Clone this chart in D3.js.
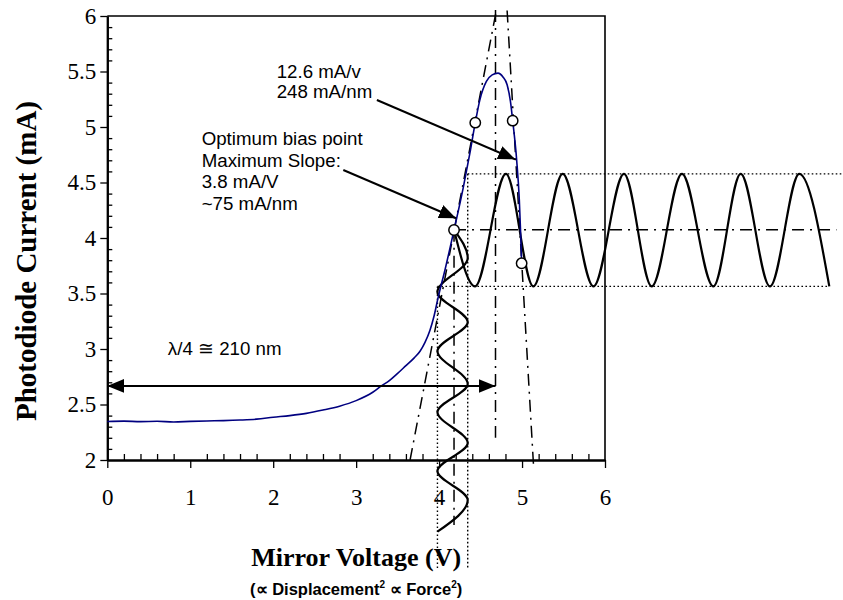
<!DOCTYPE html>
<html><head><meta charset="utf-8">
<script src="https://cdn.jsdelivr.net/npm/d3@7"></script>
<style>body{margin:0;background:#fff}svg{display:block}
.tk text{font-family:"Liberation Serif","Times New Roman",serif !important;font-size:23px !important;}
</style>
</head><body><svg id="c" width="843" height="600"></svg>
<script>
// ---------- data ----------
const xMajorTicks = [0, 1, 2, 3, 4, 5, 6];
const yMajorTicks = [2, 2.5, 3, 3.5, 4, 4.5, 5, 5.5, 6];
const xMinorTicks = [0.2,0.4,0.6,0.8,1.2,1.4,1.6,1.8,2.2,2.4,2.6,2.8,3.2,3.4,3.6,3.8,4.2,4.4,4.6,4.8,5.2,5.4,5.6,5.8];
const yMinorTicks = [2.1,2.2,2.3,2.4,2.6,2.7,2.8,2.9,3.1,3.2,3.3,3.4,3.6,3.7,3.8,3.9,4.1,4.2,4.3,4.4,4.6,4.7,4.8,4.9,5.1,5.2,5.3,5.4,5.6,5.7,5.8,5.9];

// measured photodiode current vs mirror voltage (blue)
const curveV = [0, 0.2, 0.4, 0.6, 0.8, 1.0, 1.2, 1.4, 1.6, 1.8, 2.0, 2.2, 2.4, 2.6, 2.8, 3.0, 3.2, 3.3, 3.4, 3.5, 3.6, 3.7, 3.77, 3.83, 3.89, 3.94, 3.99, 4.07, 4.18, 4.29, 4.37, 4.436, 4.49, 4.57, 4.64, 4.71, 4.77, 4.82, 4.86, 4.887, 4.935, 4.967, 4.983, 4.995];
const curveI = [2.347, 2.350, 2.346, 2.349, 2.343, 2.348, 2.352, 2.355, 2.360, 2.368, 2.385, 2.400, 2.420, 2.450, 2.485, 2.535, 2.610, 2.665, 2.715, 2.780, 2.850, 2.920, 2.980, 3.060, 3.170, 3.300, 3.470, 3.710, 4.072, 4.450, 4.760, 5.039, 5.240, 5.410, 5.470, 5.485, 5.450, 5.380, 5.230, 5.057, 4.703, 4.342, 4.042, 3.772];

// open circle markers
const markerV = [4.18, 4.436, 4.887, 4.995];
const markerI = [4.072, 5.039, 5.057, 3.772];

// output current swing (horizontal sinusoid): extrema positions
const outV = [4.18, 4.433, 4.806, 5.136, 5.490, 5.861, 6.229, 6.563, 6.928, 7.306, 7.636, 7.989, 8.342, 8.704];
const outI = [4.074, 3.564, 4.578, 3.564, 4.578, 3.564, 4.578, 3.564, 4.578, 3.564, 4.578, 3.564, 4.578, 3.564];

// drive voltage swing (vertical sinusoid): extrema positions
const driveV = [4.18, 4.345, 3.98, 4.345, 3.98, 4.345, 3.98, 4.345, 3.98, 4.345, 3.98];
const driveI = [4.074, 3.820, 3.514, 3.243, 2.982, 2.685, 2.432, 2.153, 1.901, 1.640, 1.354];

// tangent (slope) lines
const tanLeftV = [3.65, 4.69],  tanLeftI = [2.0, 6.05];
const tanRightV = [4.82, 5.14], tanRightI = [6.05, 1.93];

// reference lines
const peakLineV = [4.68, 4.68],   peakLineI = [6.054, 2.2];
const biasVLineV = [4.18, 4.18],  biasVLineI = [4.074, 1.414];
const biasHLineV = [4.18, 8.79],  biasHLineI = [4.074, 4.074];
const hiDotV = [4.345, 8.87],     hiDotI = [4.578, 4.578];
const loDotV = [3.98, 8.69],      loDotI = [3.564, 3.564];
const hiVDotV = [4.345, 4.345],   hiVDotI = [4.578, 1.027];
const loVDotV = [3.98, 3.98],     loVDotI = [3.564, 1.027];

// arrows
const spanArrowV = [0, 4.68], spanArrowI = [2.667, 2.667];
const upArrowV = [3.25, 4.917], upArrowI = [5.243, 4.709];
const loArrowV = [2.845, 4.204], loArrowI = [4.613, 4.178];

// texts
const upperNote = ["12.6 mA/v", "248 mA/nm"];
const lowerNote = ["Optimum bias point", "Maximum Slope:", "3.8 mA/V", "~75 mA/nm"];
const spanLabel = "λ/4 ≅ 210 nm";
const xTitle = "Mirror Voltage (V)";
const yTitle = "Photodiode Current (mA)";

// ---------- drawing ----------
const svg = d3.select("#c");
const x = d3.scaleLinear().domain([0, 6]).range([107.3, 605]);
const y = d3.scaleLinear().domain([2, 6]).range([460, 16]);
const pts = (vs, is) => vs.map((v, i) => [v, is[i]]);
const line = d3.line().x(d => x(d[0])).y(d => y(d[1]));

const defs = svg.append("defs");
defs.append("marker").attr("id", "ah")
  .attr("markerUnits", "userSpaceOnUse")
  .attr("viewBox", "0 -7 17 14").attr("refX", 17).attr("refY", 0)
  .attr("markerWidth", 17).attr("markerHeight", 14)
  .attr("orient", "auto-start-reverse")
  .append("path").attr("d", "M0,-7L17,0L0,7Z").attr("fill", "#000");

const serif = "Liberation Serif";
const sans = "Liberation Sans";

// frame
svg.append("path")
  .attr("d", `M${x(0)},${y(6)}H${x(6)}V${y(2)}`)
  .attr("fill", "none").attr("stroke", "#000").attr("stroke-width", 1.6);

// axes
const gx = svg.append("g").attr("class", "tk").attr("transform", `translate(0,${y(2)})`)
  .call(d3.axisBottom(x).tickValues(xMajorTicks).tickSize(8).tickSizeOuter(0).tickPadding(21).tickFormat(d3.format("d")));
const gxm = svg.append("g").attr("transform", `translate(0,${y(2)})`)
  .call(d3.axisBottom(x).tickValues(xMinorTicks).tickSize(-6).tickSizeOuter(0).tickFormat(""));
const gy = svg.append("g").attr("class", "tk").attr("transform", `translate(${x(0)},0)`)
  .call(d3.axisLeft(y).tickValues(yMajorTicks).tickSize(7).tickSizeOuter(0).tickPadding(4).tickFormat(d => String(d)));
const gym = svg.append("g").attr("transform", `translate(${x(0)},0)`)
  .call(d3.axisLeft(y).tickValues(yMinorTicks).tickSize(-5).tickSizeOuter(0).tickFormat(""));
[gx, gxm, gy, gym].forEach(g => {
  g.attr("font-family", serif).attr("font-size", 23);
  g.selectAll(".domain").attr("stroke", "#000").attr("stroke-width", 2);
  g.selectAll(".tick line").attr("stroke", "#000").attr("stroke-width", 1.3);
  g.selectAll("text").attr("font-family", serif).attr("fill", "#000");
});

// dotted guide lines
const dotted = (vs, is) => svg.append("path").attr("d", line(pts(vs, is)))
  .attr("fill", "none").attr("stroke", "#000").attr("stroke-width", 1.4).attr("stroke-dasharray", "1.6,2.4");
dotted(hiDotV, hiDotI); dotted(loDotV, loDotI); dotted(hiVDotV, hiVDotI); dotted(loVDotV, loVDotI);

// dash-dot lines
const dashdot = (vs, is) => svg.append("path").attr("d", line(pts(vs, is)))
  .attr("fill", "none").attr("stroke", "#000").attr("stroke-width", 1.5).attr("stroke-dasharray", "12,6,2,6");
dashdot(tanLeftV, tanLeftI); dashdot(tanRightV, tanRightI);
dashdot(peakLineV, peakLineI); dashdot(biasVLineV, biasVLineI); dashdot(biasHLineV, biasHLineI);

// sinusoids
svg.append("path").attr("d", line.curve(d3.curveMonotoneX)(pts(outV, outI)))
  .attr("fill", "none").attr("stroke", "#000").attr("stroke-width", 2.2);
svg.append("path").attr("d", line.curve(d3.curveMonotoneY)(pts(driveV, driveI)))
  .attr("fill", "none").attr("stroke", "#000").attr("stroke-width", 2.2);

// measured curve
svg.append("path").attr("d", line.curve(d3.curveMonotoneX)(pts(curveV, curveI)))
  .attr("fill", "none").attr("stroke", "#000080").attr("stroke-width", 1.6);
line.curve(d3.curveLinear);

// arrows
const arrow = (vs, is, both) => {
  const p = svg.append("path").attr("d", line(pts(vs, is)))
    .attr("fill", "none").attr("stroke", "#000").attr("stroke-width", 2)
    .attr("marker-end", "url(#ah)");
  if (both) p.attr("marker-start", "url(#ah)");
};
arrow(spanArrowV, spanArrowI, true);
arrow(upArrowV, upArrowI, false);
arrow(loArrowV, loArrowI, false);

// markers
svg.selectAll("circle.m").data(pts(markerV, markerI)).join("circle")
  .attr("class", "m").attr("cx", d => x(d[0])).attr("cy", d => y(d[1])).attr("r", 5.2)
  .attr("fill", "#fff").attr("stroke", "#000").attr("stroke-width", 1.5);

// annotation text
const note = (lines, v, i, lh) => {
  const t = svg.append("text").attr("font-family", sans).attr("font-size", 18.7).attr("fill", "#000");
  lines.forEach((s, k) => t.append("tspan").attr("x", x(v)).attr("y", y(i) + k * lh).text(s));
};
note(upperNote, 2.042, 5.439, 20);
note(lowerNote, 1.138, 4.838, 21.7);
svg.append("text").attr("x", x(0.73)).attr("y", y(2.946))
  .attr("font-family", sans).attr("font-size", 18.7).text(spanLabel);

// axis titles
const xc = (x(0) + x(6)) / 2;
svg.append("text").attr("x", xc).attr("y", 566).attr("text-anchor", "middle")
  .attr("font-family", serif).attr("font-weight", "bold").attr("font-size", 26).text(xTitle);
const sub = svg.append("text").attr("x", xc).attr("y", 595).attr("text-anchor", "middle")
  .attr("font-family", sans).attr("font-weight", "bold").attr("font-size", 16.5);
sub.append("tspan").text("(∝ Displacement");
sub.append("tspan").attr("font-size", 10).attr("dy", -7).text("2");
sub.append("tspan").attr("dy", 7).text(" ∝ Force");
sub.append("tspan").attr("font-size", 10).attr("dy", -7).text("2");
sub.append("tspan").attr("dy", 7).text(")");

svg.append("text").attr("transform", "translate(36,261) rotate(-90)").attr("text-anchor", "middle")
  .attr("font-family", serif).attr("font-weight", "bold").attr("font-size", 29).text(yTitle);
</script></body></html>
